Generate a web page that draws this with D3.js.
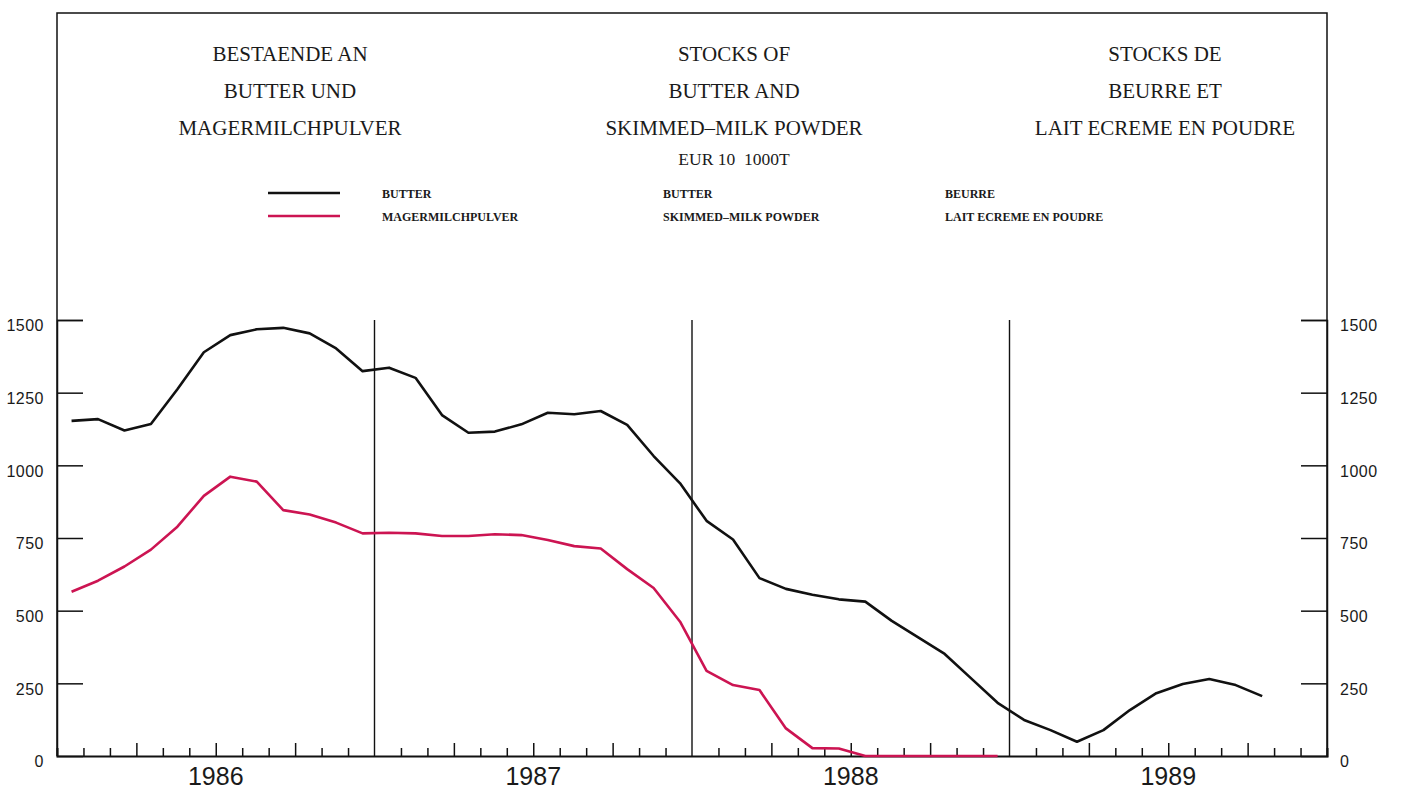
<!DOCTYPE html>
<html>
<head>
<meta charset="utf-8">
<script src="https://cdn.jsdelivr.net/npm/d3@7"></script>
<style>
  html, body { margin: 0; padding: 0; background: #ffffff; }
  svg { display: block; }
</style>
</head>
<body>
<svg id="chart" width="1403" height="792"></svg>
<script>
// ---- Data (thousand tonnes, EUR 10), monthly from Jan 1986 ----
const years = ["1986", "1987", "1988", "1989"];
const yTicks = [0, 250, 500, 750, 1000, 1250, 1500];
const butter = [1153, 1159, 1120, 1142, 1262, 1389, 1448, 1468, 1473, 1454, 1402, 1324,
                1336, 1301, 1173, 1112, 1116, 1141, 1181, 1176, 1187, 1139, 1032, 938,
                809, 745, 612, 575, 555, 539, 531, 465, 408, 351, 267, 183,
                124, 89, 49, 89, 158, 216, 248, 265, 244, 206];
const smp = [565, 603, 652, 710, 789, 895, 961, 944, 846, 831, 803, 766,
             768, 766, 757, 757, 763, 760, 743, 722, 714, 643, 578, 462,
             293, 244, 227, 95, 27, 26, 0, 0, 0, 0, 0, 0];
const titleDE = ["BESTAENDE AN", "BUTTER UND", "MAGERMILCHPULVER"];
const titleEN = ["STOCKS OF", "BUTTER AND", "SKIMMED\u2013MILK POWDER"];
const titleFR = ["STOCKS DE", "BEURRE ET", "LAIT ECREME EN POUDRE"];
const unitLabel = "EUR 10  1000T";
const legendDE = ["BUTTER", "MAGERMILCHPULVER"];
const legendEN = ["BUTTER", "SKIMMED\u2013MILK POWDER"];
const legendFR = ["BEURRE", "LAIT ECREME EN POUDRE"];
const seriesColors = ["#111111", "#cc1452"];

// ---- Layout ----
const svg = d3.select("#chart");
const L = 57, R = 1327, T = 13, B = 756;
const nMonths = 48;
const x = d3.scaleLinear().domain([0, nMonths]).range([L, R]);
const y = d3.scaleLinear().domain([0, 1500]).range([B, 320]);

// Frame (top, right, left)
svg.append("path")
  .attr("d", `M${L},${B} L${L},${T} L${R},${T} L${R},${B}`)
  .attr("fill", "none").attr("stroke", "#111").attr("stroke-width", 1.5);

// Titles
const titleFont = "'Liberation Serif', 'Times New Roman', serif";
function titleBlock(lines, cx) {
  const g = svg.append("g");
  lines.forEach((t, i) => {
    g.append("text").attr("x", cx).attr("y", 60.5 + i * 37)
      .attr("text-anchor", "middle")
      .attr("font-family", titleFont).attr("font-size", 21)
      .attr("fill", "#1a1a1a").text(t);
  });
}
titleBlock(titleDE, 290);
titleBlock(titleEN, 734);
titleBlock(titleFR, 1165);
svg.append("text").attr("x", 734).attr("y", 165)
  .attr("text-anchor", "middle").attr("font-family", titleFont)
  .attr("font-size", 17.5).attr("fill", "#1a1a1a")
  .attr("xml:space", "preserve").style("white-space", "pre").text(unitLabel);

// Legend
const legY = [193, 216];
seriesColors.forEach((c, i) => {
  svg.append("line").attr("x1", 268).attr("x2", 340)
    .attr("y1", legY[i]).attr("y2", legY[i])
    .attr("stroke", c).attr("stroke-width", 2.5);
});
[[legendDE, 382], [legendEN, 663], [legendFR, 945]].forEach(([labels, lx]) => {
  labels.forEach((t, i) => {
    svg.append("text").attr("x", lx).attr("y", legY[i] + 4.5)
      .attr("font-family", titleFont).attr("font-weight", "bold")
      .attr("font-size", 12).attr("fill", "#1a1a1a").text(t);
  });
});

// Y axes
const numFont = "'Liberation Sans', Arial, sans-serif";
const yLeft = svg.append("g").attr("transform", `translate(${L},0)`)
  .call(d3.axisLeft(y).tickValues(yTicks).tickSize(-26).tickPadding(13).tickFormat(d3.format("d")));
const yRight = svg.append("g").attr("transform", `translate(${R},0)`)
  .call(d3.axisRight(y).tickValues(yTicks).tickSize(-26).tickPadding(13).tickFormat(d3.format("d")));
[yLeft, yRight].forEach(g => {
  g.select(".domain").attr("stroke", "#111").attr("stroke-width", 1.5);
  g.selectAll(".tick line").attr("stroke", "#111").attr("stroke-width", 1.5)
    .filter(d => d === 0).remove();
  g.selectAll(".tick text").attr("font-family", numFont).attr("font-size", 16)
    .attr("letter-spacing", 0.5).attr("fill", "#1a1a1a").attr("dy", "0.68em");
});

// Bottom axis (month ticks, quarter ticks taller)
const monthTicks = d3.range(1, nMonths).filter(m => m % 12 !== 0);
const xAxis = svg.append("g").attr("transform", `translate(0,${B})`)
  .call(d3.axisBottom(x).tickValues(monthTicks).tickSize(-8).tickFormat(""));
xAxis.select(".domain").attr("stroke", "#111").attr("stroke-width", 2);
xAxis.selectAll(".tick line").attr("stroke", "#111").attr("stroke-width", 1.5)
  .attr("y2", d => d % 3 === 0 ? -13 : -8);

// Year separators
svg.selectAll("line.yearSep").data([12, 24, 36]).enter().append("line")
  .attr("class", "yearSep")
  .attr("x1", d => x(d)).attr("x2", d => x(d))
  .attr("y1", y(1500)).attr("y2", B)
  .attr("stroke", "#111").attr("stroke-width", 1.4);

// Year labels
svg.selectAll("text.year").data(years).enter().append("text")
  .attr("class", "year")
  .attr("x", (d, i) => x(i * 12 + 6)).attr("y", 785)
  .attr("text-anchor", "middle").attr("font-family", numFont)
  .attr("font-size", 25).attr("fill", "#1a1a1a").text(d => d);

// Series lines
const line = d3.line().x((d, i) => x(i + 0.55)).y(d => y(d));
[butter, smp].forEach((s, i) => {
  svg.append("path").datum(s).attr("d", line)
    .attr("fill", "none").attr("stroke", seriesColors[i])
    .attr("stroke-width", 2.6).attr("stroke-linejoin", "round");
});
</script>
</body>
</html>
